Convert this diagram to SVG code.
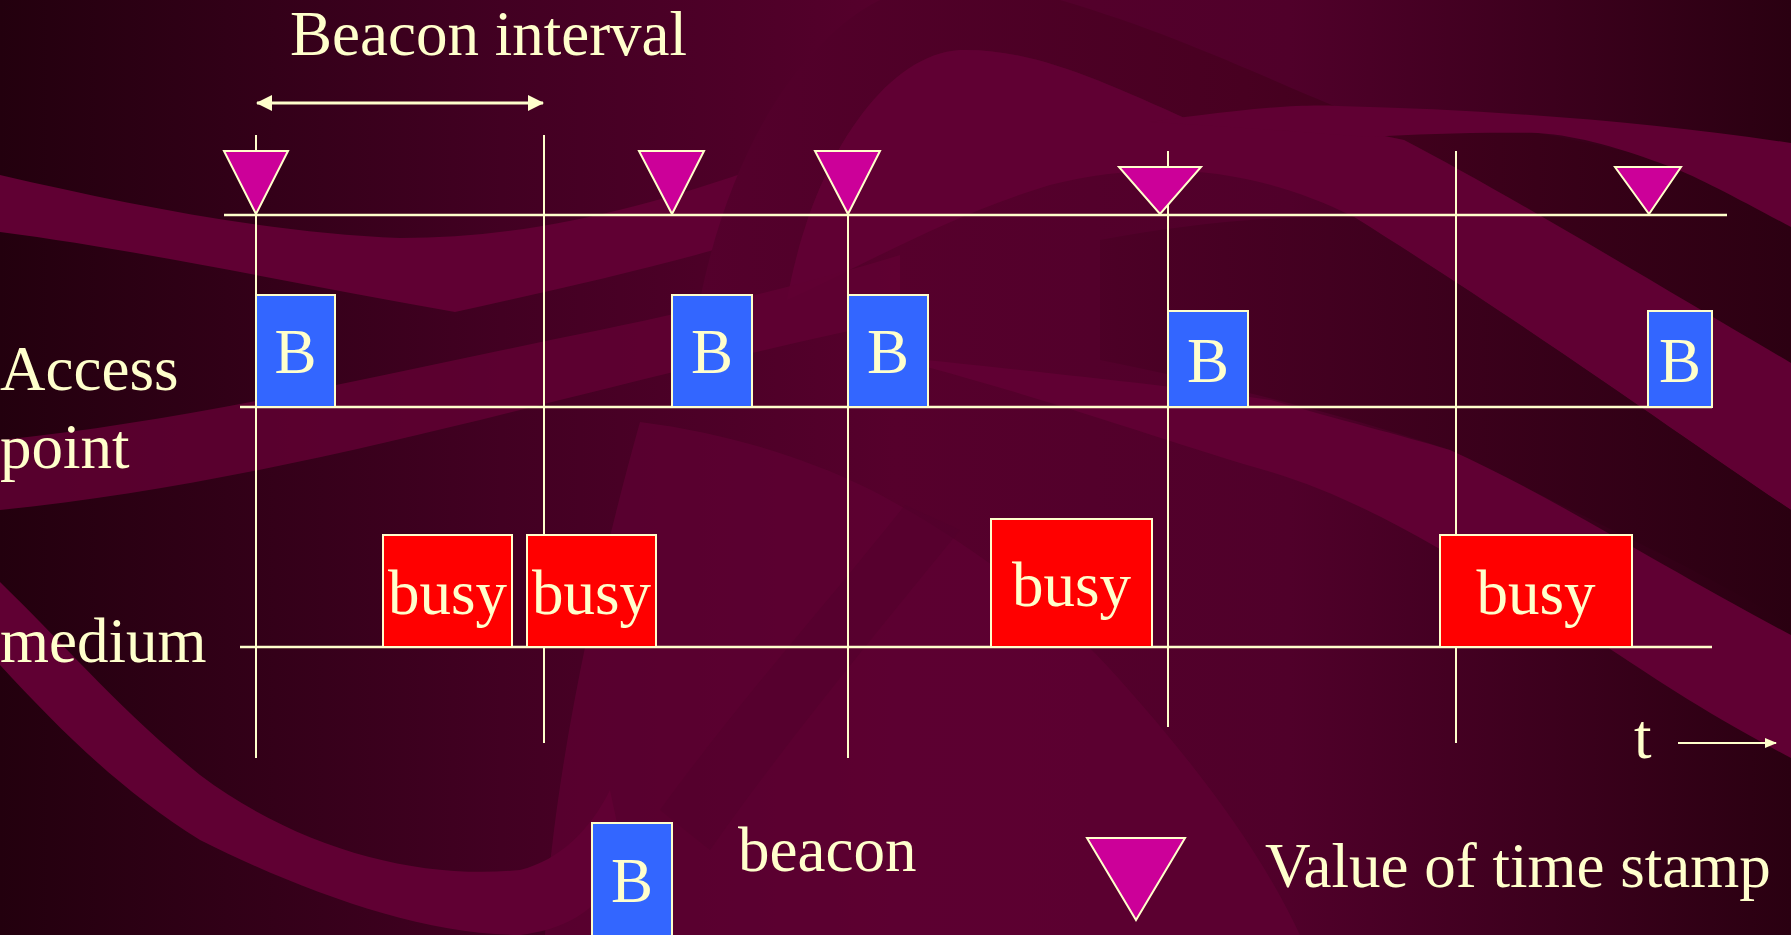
<svg xmlns="http://www.w3.org/2000/svg" width="1791" height="935" viewBox="0 0 1791 935">
  <defs>
    <linearGradient id="bgGrad" x1="0" y1="0" x2="1" y2="0">
      <stop offset="0" stop-color="#23000e"/>
      <stop offset="0.28" stop-color="#420022"/>
      <stop offset="0.5" stop-color="#56002c"/>
      <stop offset="0.72" stop-color="#50002a"/>
      <stop offset="1" stop-color="#2a0011"/>
    </linearGradient>
    <linearGradient id="archGrad" x1="700" y1="0" x2="1791" y2="0" gradientUnits="userSpaceOnUse">
      <stop offset="0" stop-color="#54002c"/>
      <stop offset="0.5" stop-color="#480021"/>
      <stop offset="1" stop-color="#2c0012"/>
    </linearGradient>
    <linearGradient id="stripeGrad" x1="1100" y1="0" x2="1791" y2="0" gradientUnits="userSpaceOnUse">
      <stop offset="0" stop-color="#4c0026"/>
      <stop offset="1" stop-color="#2a0011"/>
    </linearGradient>
    <marker id="arrowHead" markerUnits="userSpaceOnUse" viewBox="0 0 16 16" markerWidth="16" markerHeight="16" refX="15" refY="8" orient="auto-start-reverse">
      <path d="M0,0 L16,8 L0,16 Z" fill="#FFFFCC"/>
    </marker>
    <marker id="arrowSmall" markerUnits="userSpaceOnUse" viewBox="0 0 12 10" markerWidth="12" markerHeight="10" refX="11" refY="5" orient="auto">
      <path d="M0,0 L12,5 L0,10 Z" fill="#FFFFCC"/>
    </marker>
  </defs>
  <style>
    .band { fill: #600033; }
    .ln { stroke: #FFFFCC; stroke-width: 2; fill: none; }
    .axis { stroke: #FFFFCC; stroke-width: 2.5; fill: none; }
    .stamp { fill: #CC0099; stroke: #FFFFCC; stroke-width: 2; }
    .beacon { fill: #3366FF; stroke: #FFFFCC; stroke-width: 2; }
    .busy { fill: #FF0000; stroke: #FFFFCC; stroke-width: 2; }
    text { font-family: "Liberation Serif", "Times New Roman", serif; font-size: 63px; fill: #FFFFCC; }
    .mid { text-anchor: middle; }
  </style>

  <!-- slide background -->
  <g id="background">
    <rect x="0" y="0" width="1791" height="935" fill="url(#bgGrad)"/>
    <!-- upper-left swoosh -->
    <path class="band" d="M0,175 C130,205 270,233 400,238 C560,238 720,190 900,110 L930,180 C760,245 600,280 455,312 C300,285 140,250 0,232 Z"/>
    <!-- darker arch over the top centre, running out to the right edge -->
    <path fill="url(#archGrad)" d="M700,300 C730,150 800,40 880,0 L1060,0 C1180,35 1280,85 1340,108 C1500,120 1650,150 1791,200 L1791,363 C1650,280 1500,190 1404,140 C1320,122 1250,126 1189,120 C1100,80 1030,48 960,50 C880,55 810,170 787,300 Z"/>
    <!-- lighter arch interior becoming a diagonal stripe -->
    <path class="band" d="M787,300 C810,170 880,55 960,50 C1030,48 1100,80 1189,120 C1250,126 1320,122 1404,140 C1500,190 1650,280 1791,363 L1791,510 C1700,450 1550,340 1354,217 C1250,165 1150,160 1050,185 C950,215 870,262 787,300 Z"/>
    <!-- thin swoosh along the top right -->
    <path class="band" d="M1150,122 C1250,108 1300,104 1338,106 C1500,110 1650,122 1791,143 L1791,227 C1740,200 1700,178 1671,167 C1620,148 1580,136 1538,133 C1480,132 1420,134 1371,137 C1300,132 1220,126 1150,122 Z"/>
    <!-- darker stripe between the right-hand bands -->
    <path fill="url(#stripeGrad)" d="M1100,240 C1180,225 1270,215 1354,217 C1550,340 1700,450 1791,510 L1791,625 C1700,570 1620,535 1450,450 C1330,410 1200,380 1100,360 Z" opacity="0.9"/>
    <!-- lower-right diagonal band, tapering to the left -->
    <path class="band" d="M880,355 C1000,368 1170,385 1271,400 C1340,420 1400,435 1450,450 C1550,495 1650,560 1791,635 L1791,758 C1700,710 1650,675 1604,645 C1540,605 1480,570 1438,548 C1380,515 1330,490 1271,472 C1160,440 1040,395 880,355 Z"/>
    <!-- band below the access point label -->
    <path class="band" d="M0,440 C200,420 400,370 600,330 C720,305 820,280 900,255 L900,320 C780,345 660,375 560,400 C400,440 200,490 0,510 Z" opacity="0.85"/>
    <!-- lighter region in the lower centre -->
    <path class="band" d="M640,422 C720,432 800,455 867,488 C950,530 1050,600 1120,680 C1200,770 1260,850 1300,935 L545,935 C550,800 590,600 640,422 Z" opacity="0.7"/>
    <path fill="#52002b" d="M905,505 L960,530 C870,640 780,750 710,850 L660,810 C740,700 830,600 905,505 Z" opacity="0.5"/>
    <!-- big swoosh from the lower left -->
    <path class="band" d="M0,582 C60,640 120,710 200,775 C300,850 420,880 520,870 C560,860 590,830 610,790 L625,860 C600,915 560,930 520,935 C420,935 300,890 200,840 C120,790 60,730 0,665 Z"/>
  </g>

  <!-- axes and time markers -->
  <g id="connectors">
    <line class="ln" x1="256" y1="135" x2="256" y2="758"/>
    <line class="ln" x1="544" y1="135" x2="544" y2="743"/>
    <line class="ln" x1="848" y1="151" x2="848" y2="758"/>
    <line class="ln" x1="1168" y1="151" x2="1168" y2="727"/>
    <line class="ln" x1="1456" y1="151" x2="1456" y2="743"/>
    <line class="axis" x1="224" y1="215" x2="1727" y2="215"/>
    <line class="axis" x1="240" y1="407" x2="1712" y2="407"/>
    <line class="axis" x1="240" y1="647" x2="1712" y2="647"/>
    <line stroke="#FFFFCC" stroke-width="3" x1="257" y1="103" x2="543" y2="103" marker-start="url(#arrowHead)" marker-end="url(#arrowHead)"/>
    <line stroke="#FFFFCC" stroke-width="2" x1="1678" y1="743" x2="1776" y2="743" marker-end="url(#arrowSmall)"/>
  </g>

  <!-- time stamp markers -->
  <g id="stamp-1"><polygon class="stamp" points="224,151 288,151 256,214"/></g>
  <g id="stamp-2"><polygon class="stamp" points="639,151 704,151 672,214"/></g>
  <g id="stamp-3"><polygon class="stamp" points="815,151 880,151 848,214"/></g>
  <g id="stamp-4"><polygon class="stamp" points="1119,167 1201,167 1160,214"/></g>
  <g id="stamp-5"><polygon class="stamp" points="1615,167 1681,167 1649,214"/></g>

  <!-- beacons sent by the access point -->
  <g id="beacon-1"><rect class="beacon" x="256" y="295" width="79" height="112"/><text class="mid" x="295.5" y="373">B</text></g>
  <g id="beacon-2"><rect class="beacon" x="672" y="295" width="80" height="112"/><text class="mid" x="712" y="373">B</text></g>
  <g id="beacon-3"><rect class="beacon" x="848" y="295" width="80" height="112"/><text class="mid" x="888" y="373">B</text></g>
  <g id="beacon-4"><rect class="beacon" x="1168" y="311" width="80" height="96"/><text class="mid" x="1208" y="382">B</text></g>
  <g id="beacon-5"><rect class="beacon" x="1648" y="311" width="64" height="96" stroke-width="3"/><text class="mid" x="1680" y="382">B</text></g>

  <!-- medium busy periods -->
  <g id="busy-1"><rect class="busy" x="383" y="535" width="129" height="112"/><text class="mid" x="447.5" y="614">busy</text></g>
  <g id="busy-2"><rect class="busy" x="527" y="535" width="129" height="112"/><text class="mid" x="591.5" y="614">busy</text></g>
  <g id="busy-3"><rect class="busy" x="991" y="519" width="161" height="128"/><text class="mid" x="1071.5" y="606">busy</text></g>
  <g id="busy-4"><rect class="busy" x="1440" y="535" width="192" height="112"/><text class="mid" x="1536" y="614">busy</text></g>

  <!-- labels -->
  <g id="labels">
    <text x="290" y="55">Beacon interval</text>
    <text x="0" y="390">Access</text>
    <text x="0" y="468">point</text>
    <text x="0" y="662">medium</text>
    <text x="1634" y="758">t</text>
  </g>

  <!-- legend -->
  <g id="legend-beacon">
    <rect class="beacon" x="592" y="823" width="80" height="120"/>
    <text class="mid" x="632" y="902">B</text>
    <text x="738" y="871">beacon</text>
  </g>
  <g id="legend-stamp">
    <polygon class="stamp" points="1087,838 1185,838 1136,920"/>
    <text x="1265" y="887">Value of time stamp</text>
  </g>
</svg>
